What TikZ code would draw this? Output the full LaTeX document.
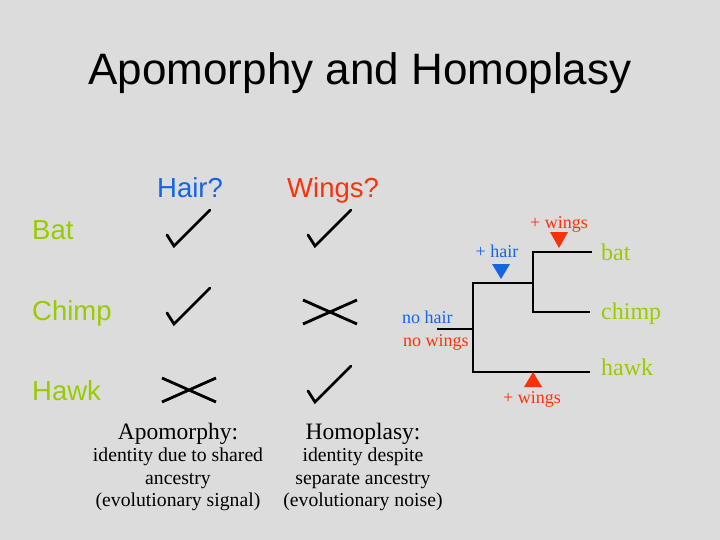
\documentclass[tikz,border=0pt]{standalone}
\usepackage{fontspec}
\setmainfont{Liberation Serif}
\setsansfont{Liberation Sans}
\usepackage{tikz}
\usetikzlibrary{positioning}

\definecolor{slidegray}{RGB}{220,220,220}
\definecolor{taxongreen}{RGB}{153,204,0}
\definecolor{hairblue}{RGB}{20,100,230}
\definecolor{wingred}{RGB}{250,50,10}

\begin{document}
\begin{tikzpicture}[x=1pt,y=-1pt,
  title/.style={font=\fontsize{44}{48}\selectfont\sffamily, anchor=base, inner sep=0},
  header/.style={font=\fontsize{27.5}{30}\selectfont\sffamily, anchor=base west, inner sep=0},
  taxon/.style={font=\fontsize{27.5}{30}\selectfont\sffamily, text=taxongreen, anchor=base west, inner sep=0},
  leaf/.style={font=\fontsize{24}{26}\selectfont, text=taxongreen, anchor=base west, inner sep=0},
  change/.style={font=\fontsize{18}{20}\selectfont, inner sep=0},
  heading/.style={font=\fontsize{23.5}{26}\selectfont, anchor=base, inner sep=0},
  remark/.style={font=\fontsize{19.7}{22.5}\selectfont, align=center, inner sep=0},
  branch/.style={line width=2.8pt},
  checkmark/.pic={\draw[line width=2.8pt, line cap=round, line join=miter] (-7,-11) -- (0,0) -- (36,-36);},
  crossmark/.pic={\draw[line width=2.8pt] (-27,-12) -- (27,12) (-27,12) -- (27,-12);}
]

% Background and frame
\fill[slidegray] (0,0) rectangle (720,540);
\useasboundingbox (0,0) rectangle (720,540);

% Title
\node[title] (title) at (360,85) {Apomorphy and Homoplasy};

% Character table
\node[header, text=hairblue] (hair) at (157,197) {Hair?};
\node[header, text=wingred] (wings) at (287,197) {Wings?};
\node[taxon] (Bat) at (32,240) {Bat};
\node[taxon] (Chimp) at (32,320) {Chimp};
\node[taxon] (Hawk) at (32,400) {Hawk};

\pic at (174,246) {checkmark};
\pic at (315,246) {checkmark};
\pic at (174,324) {checkmark};
\pic at (330,312) {crossmark};
\pic at (189,390) {crossmark};
\pic at (315,402) {checkmark};

% Tree
\coordinate (root) at (437,329);
\coordinate (n0) at (473,329);
\coordinate (n1) at (533,283);
\coordinate (batend) at (592,252);
\coordinate (chimpend) at (590,312);
\coordinate (hawkend) at (590,372);
\draw[branch] (root) -- (n0);
\draw[branch] (n0) |- (n1);
\draw[branch] (n0) |- (hawkend);
\draw[branch] (n1) |- (batend);
\draw[branch] (n1) |- (chimpend);

\node[leaf] (bat) at (601,260) {bat};
\node[leaf] (chimp) at (601,319) {chimp};
\node[leaf] (hawk) at (601,375) {hawk};

% Character changes
\fill[hairblue] (492,264) -- (510,264) -- (501,279) -- cycle;
\fill[wingred] (550,232) -- (568,232) -- (559,248) -- cycle;
\fill[wingred] (524,387) -- (542,387) -- (533,372) -- cycle;
\node[change, text=hairblue, anchor=base] (gainhair) at (497,258) {+ hair};
\node[change, text=wingred, anchor=base] (gainwings) at (559,229) {+ wings};
\node[change, text=wingred, anchor=base] (gainwingshawk) at (532,403) {+ wings};
\node[change, text=hairblue, anchor=base west] (nohair) at (402,323) {no hair};
\node[change, text=wingred, anchor=base west] (nowings) at (403,346) {no wings};

% Definitions
\node[heading] (apo) at (178,439) {Apomorphy:};
\node[remark, below=3.5pt of apo] (apotext) {identity due to shared\\ancestry\\(evolutionary signal)};
\node[heading] (homo) at (363,439) {Homoplasy:};
\node[remark, below=3.5pt of homo] (homotext) {identity despite\\separate ancestry\\(evolutionary noise)};

\end{tikzpicture}
\end{document}
